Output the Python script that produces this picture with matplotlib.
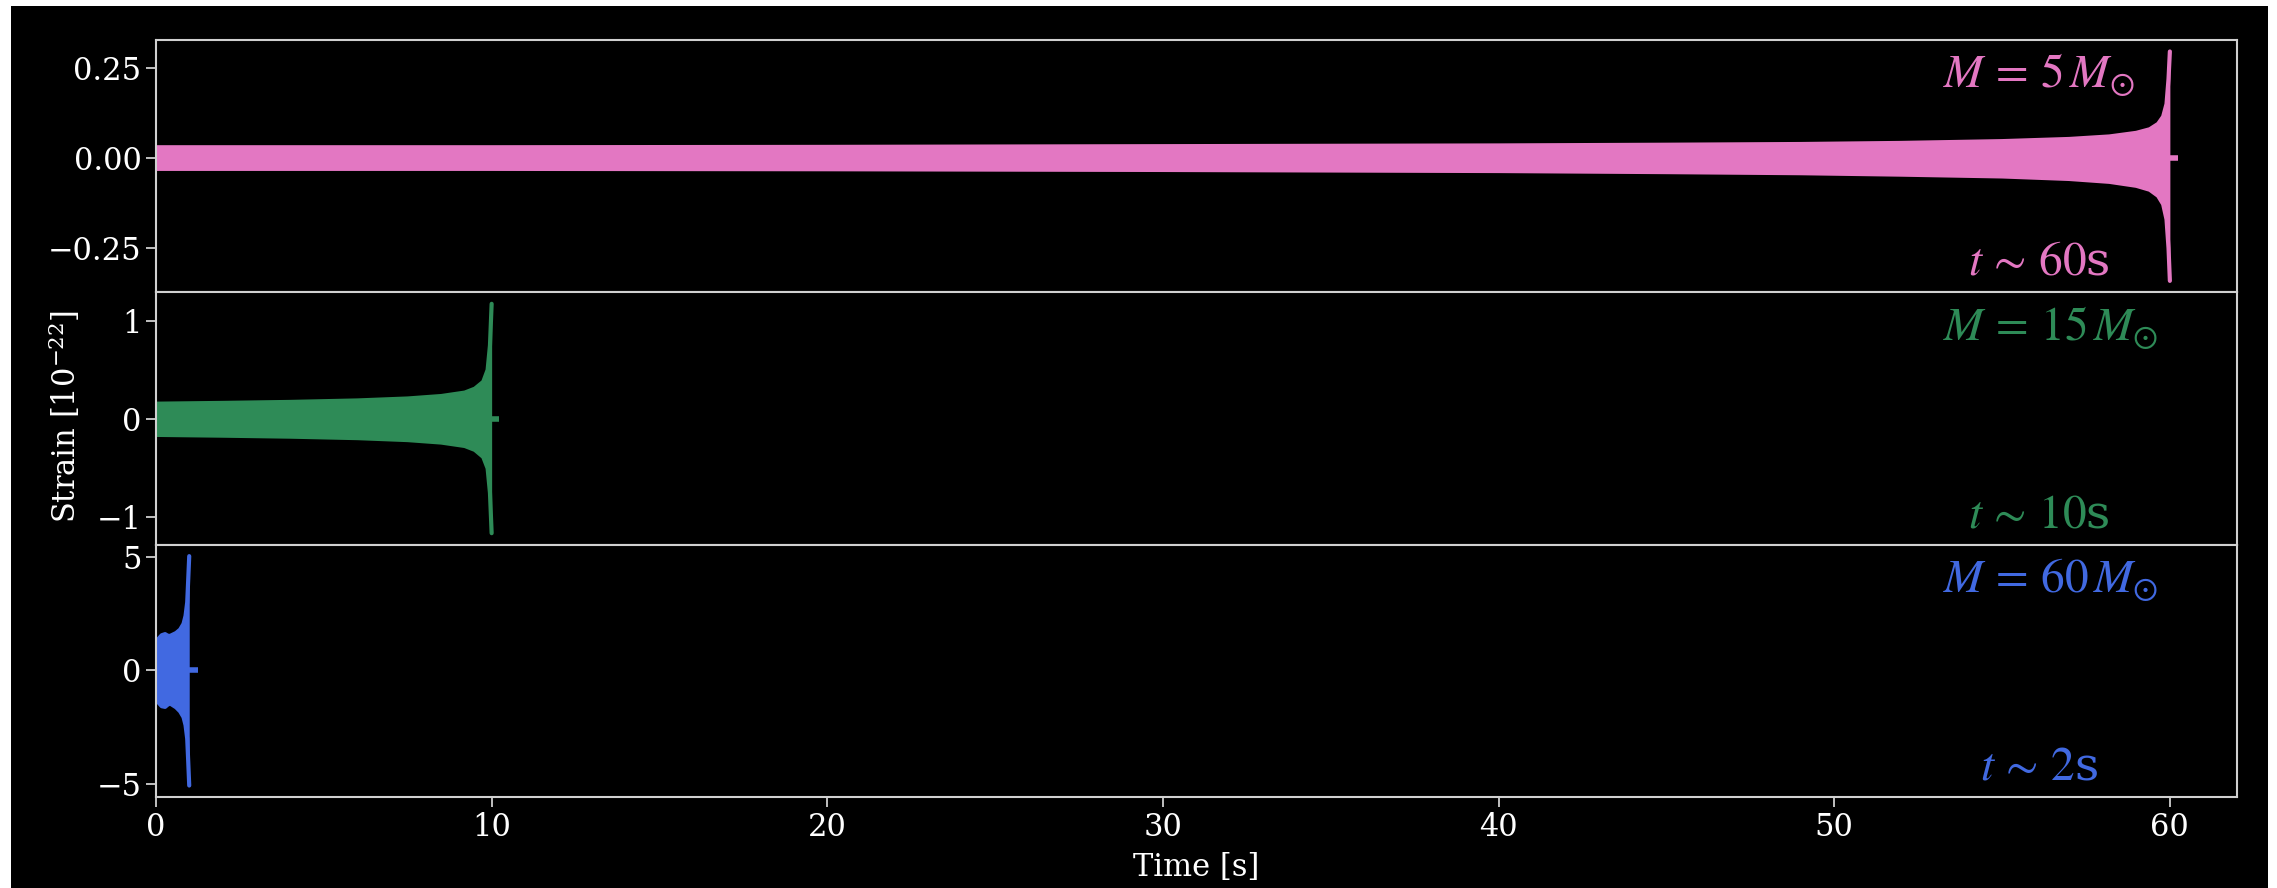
import numpy as np
import matplotlib
matplotlib.use("Agg")
import matplotlib.pyplot as plt
from matplotlib.patches import Rectangle

# envelope of each chirp (time [s], strain [1e-22])
t_5 = [0, 10, 20, 30, 40, 45, 49, 52, 55, 57, 58.2, 59.0, 59.4, 59.65, 59.8, 59.9, 59.96, 60.0]
up_5 = [0.030, 0.030, 0.031, 0.033, 0.035, 0.037, 0.039, 0.042, 0.047, 0.053, 0.060, 0.070,
        0.080, 0.095, 0.115, 0.15, 0.22, 0.296]
lo_5 = [-0.030, -0.030, -0.031, -0.033, -0.036, -0.039, -0.042, -0.046, -0.051, -0.058, -0.066,
        -0.077, -0.088, -0.105, -0.128, -0.17, -0.25, -0.341]
tail_5 = [60.0, 60.24]

t_15 = [0, 2, 4, 6, 7.5, 8.5, 9.2, 9.5, 9.75, 9.88, 9.95, 10.0]
up_15 = [0.157, 0.165, 0.175, 0.19, 0.21, 0.235, 0.27, 0.31, 0.38, 0.5, 0.75, 1.173]
lo_15 = [-0.16, -0.168, -0.178, -0.193, -0.213, -0.238, -0.273, -0.313, -0.385, -0.5, -0.75, -1.16]
tail_15 = [10.0, 10.22]

t_60 = [0, 0.08, 0.17, 0.27, 0.35, 0.42, 0.6, 0.72, 0.82, 0.88, 0.93, 0.96, 0.99]
up_60 = [1.09, 1.4, 1.55, 1.6, 1.53, 1.52, 1.65, 1.8, 2.05, 2.4, 3.0, 4.0, 5.03]
lo_60 = [-1.16, -1.42, -1.57, -1.6, -1.5, -1.45, -1.62, -1.8, -2.05, -2.4, -3.0, -4.0, -5.06]
tail_60 = [0.99, 1.26]

masses = [5, 15, 60]
durations = ["60", "10", "2"]
colors = ["#e377c2", "#2e8b57", "#4169e1"]
yticks = [[-0.25, 0, 0.25], [-1, 0, 1], [-5, 0, 5]]
xticks = [0, 10, 20, 30, 40, 50, 60]

plt.rcParams['font.family'] = 'serif'
plt.rcParams['font.serif'] = ['DejaVu Serif']
plt.rcParams['mathtext.fontset'] = 'stix'

edge = "#d0d0d0"

fig = plt.figure(figsize=(22.77, 8.88), dpi=100, facecolor="white")
# screenshot-like white margin on top / left / right
fig.patches.append(Rectangle((11/2277, 0), (2268-11)/2277, (888-6)/888,
                             transform=fig.transFigure, facecolor="black",
                             edgecolor="none", zorder=-10))

axs = fig.subplots(3, 1, sharex=True)
fig.subplots_adjust(left=156/2277, right=2237/2277, top=1-40/888,
                    bottom=1-797/888, hspace=0)

data = [(t_5, up_5, lo_5, tail_5), (t_15, up_15, lo_15, tail_15),
        (t_60, up_60, lo_60, tail_60)]

for i, ax in enumerate(axs):
    t, up, lo, tail = data[i]
    c = colors[i]
    ax.set_facecolor("black")
    ax.fill_between(t, lo, up, color=c, lw=0)
    ax.plot(t, up, color=c, lw=3, solid_capstyle='round')
    ax.plot(t, lo, color=c, lw=3, solid_capstyle='round')
    ax.plot(tail, [0, 0], color=c, lw=4, solid_capstyle='butt')

    ax.set_yticks(yticks[i])
    for s in ax.spines.values():
        s.set_color(edge)
        s.set_linewidth(1.5)
    ax.tick_params(colors=edge, labelcolor="white", labelsize=22,
                   length=7, width=1.3)

    ax.text(0.8587, 0.81, r"$M\,=\,%d\,M_{\odot}$" % masses[i],
            transform=ax.transAxes, color=c, fontsize=34,
            ha="left", va="baseline")
    ax.text(0.905, 0.07, r"$t\,\sim\,%s$s" % durations[i],
            transform=ax.transAxes, color=c, fontsize=34,
            ha="center", va="baseline")

axs[-1].set_xlim(0, 62)
axs[-1].set_xticks(xticks)
axs[-1].set_xlabel("Time [s]", color="white", fontsize=22, labelpad=7)

fig.text(65/2277, 1-416/888, r"Strain [$10^{-22}$]", rotation=90,
         color="white", fontsize=22, ha="center", va="center",
         math_fontfamily="dejavuserif")

plt.savefig("out.png", dpi=100, facecolor=fig.get_facecolor())
